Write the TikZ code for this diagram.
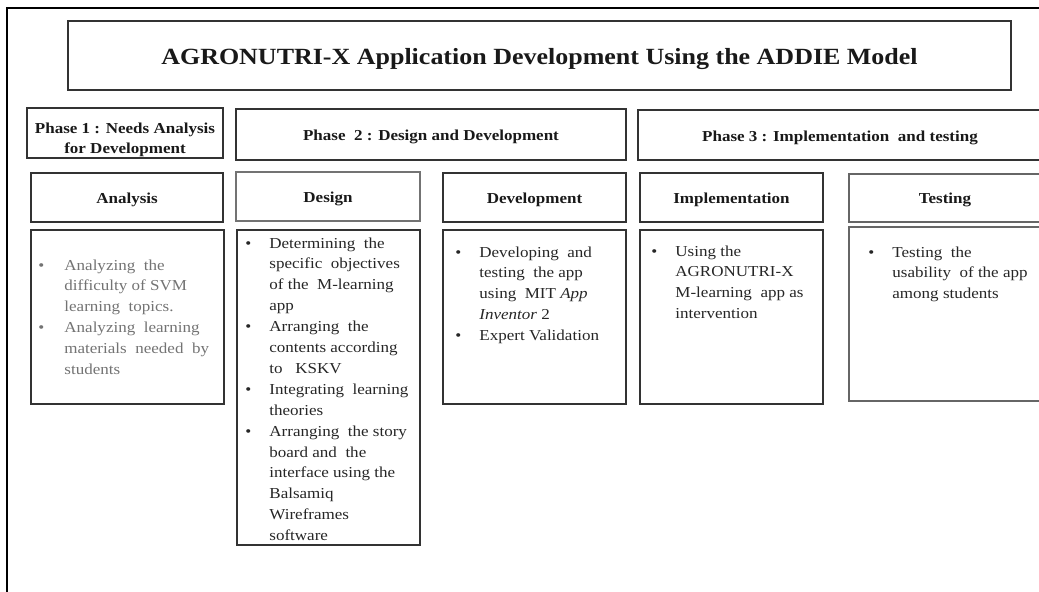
\documentclass[tikz,border=0pt]{standalone}
\usepackage{fontspec}
\setmainfont{Liberation Serif}[FakeStretch=1.12]
\tikzset{
  frame/.style={draw=black!80, line width=0.7pt},
  box/.style={frame},
  hdr/.style={font=\fontsize{7.6}{10}\selectfont\bfseries, text=black!90, align=center},
  title/.style={font=\fontsize{11.6}{14}\selectfont\bfseries, text=black!90},
  body/.style={font=\fontsize{7.6}{10.45}\selectfont, text=black!85, inner sep=0pt, anchor=north west},
  graybody/.style={body, text=black!55},
}
\newcommand\bl{\textbullet}
\begin{document}
\begin{tikzpicture}[x=0.5pt,y=-0.5pt]
\useasboundingbox (0,0) rectangle (1039,591);
\clip (0,0) rectangle (1039,591);
% outer frame (open at right and bottom)
\coordinate (fTR) at (1045,8);
\coordinate (fTL) at (7,8);
\coordinate (fBL) at (7,600);
\draw[line width=0.6pt, black] (fTR) -- (fTL) -- (fBL);
% title
\draw[box] (68,21) rectangle (1011,90);
\node[title] (title) at (539.5,59) {AGRONUTRI-X Application Development Using the ADDIE Model};
% phases
\draw[box] (27,108) rectangle (223,158);
\node[hdr] (p1) at (125,140) {Phase 1 : Needs Analysis\\for Development};
\draw[box] (236,109) rectangle (626,160);
\node[hdr] (p2) at (431,137) {Phase\ \ 2 : Design and Development};
\draw[box] (638,110) rectangle (1042,160);
\node[hdr] (p3) at (840,138) {Phase 3 : Implementation\ \ and testing};
% column headers
\draw[box] (31,173) rectangle (223,222);
\node[hdr] (hA) at (127,199.5) {Analysis};
\draw[box, draw=black!55] (236,172) rectangle (420,221);
\node[hdr] (hD) at (328,198.5) {Design};
\draw[box] (443,173) rectangle (626,222);
\node[hdr] (hDev) at (534.5,199.5) {Development};
\draw[box] (640,173) rectangle (823,222);
\node[hdr] (hI) at (731.5,199.5) {Implementation};
\draw[box, draw=black!60] (849,174) rectangle (1041,222);
\node[hdr] (hT) at (945,200) {Testing};
% bodies
\draw[box] (31,230) rectangle (224,404);
\node[graybody] (bA) at (38,255) {\begin{tabular}{@{}p{13pt}@{}l@{}}
\bl & Analyzing\ \ the\\
 & difficulty of SVM\\
 & learning\ \ topics.\\
\bl & Analyzing\ \ learning\\
 & materials\ \ needed\ \ by\\
 & students
\end{tabular}};
\draw[box] (237,230) rectangle (420,545);
\node[body] (bD) at (245,233) {\begin{tabular}{@{}p{12pt}@{}l@{}}
\bl & Determining\ \ the\\
 & specific\ \ objectives\\
 & of the\ \ M-learning\\
 & app\\
\bl & Arranging\ \ the\\
 & contents according\\
 & to\ \ \ KSKV\\
\bl & Integrating\ \ learning\\
 & theories\\
\bl & Arranging\ \ the story\\
 & board and\ \ the\\
 & interface using the\\
 & Balsamiq\\
 & Wireframes\\
 & software
\end{tabular}};
\draw[box] (443,230) rectangle (626,404);
\node[body] (bDev) at (455,242) {\begin{tabular}{@{}p{12pt}@{}l@{}}
\bl & Developing\ \ and\\
 & testing\ \ the app\\
 & using\ \ MIT \textit{App}\\
 & \textit{Inventor} 2\\
\bl & Expert Validation
\end{tabular}};
\draw[box] (640,230) rectangle (823,404);
\node[body] (bI) at (651,241) {\begin{tabular}{@{}p{12pt}@{}l@{}}
\bl & Using the\\
 & AGRONUTRI-X\\
 & M-learning\ \ app as\\
 & intervention
\end{tabular}};
\draw[box, draw=black!60] (849,227) rectangle (1041,401);
\node[body] (bT) at (868,242) {\begin{tabular}{@{}p{12pt}@{}l@{}}
\bl & Testing\ \ the\\
 & usability\ \ of the app\\
 & among students
\end{tabular}};
\end{tikzpicture}
\end{document}
